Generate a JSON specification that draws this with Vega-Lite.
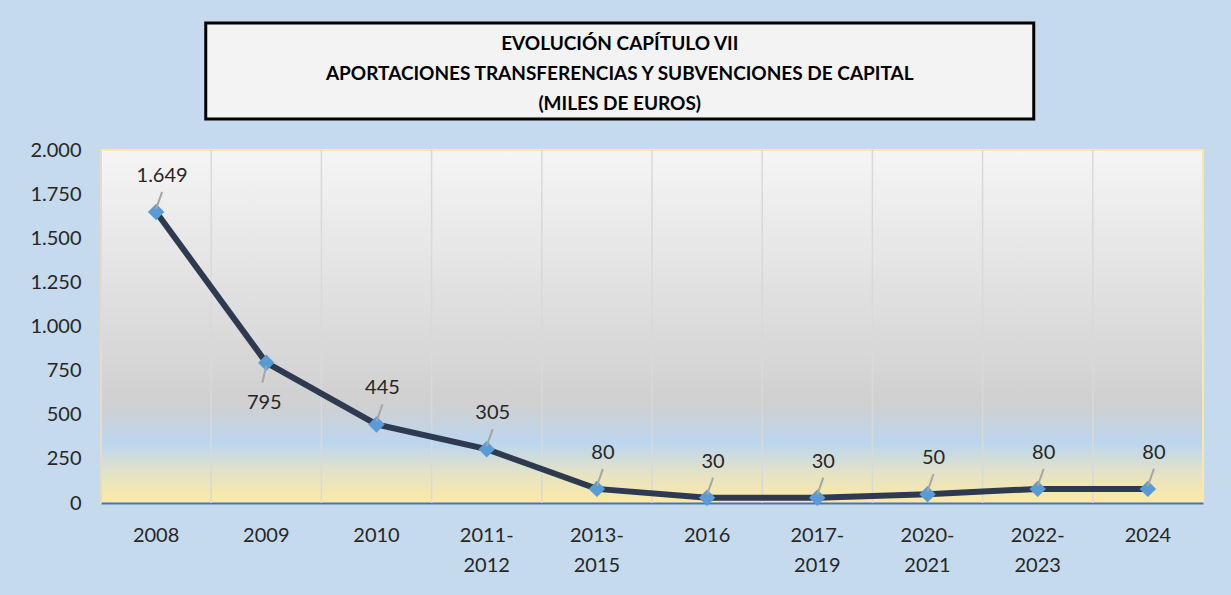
{
  "$schema": "https://vega.github.io/schema/vega-lite/v6.json",
  "background": "#c6daee",
  "padding": {"left": 28, "top": 21, "right": 30, "bottom": 24},
  "spacing": 18,
  "center": true,
  "config": {
    "font": "Lato",
    "locale": {"number": {"decimal": ",", "thousands": ".", "grouping": [3], "currency": ["", " €"]}}
  },
  "datasets": {
    "serie": [
      {"periodo": "2008", "valor": 1649},
      {"periodo": "2009", "valor": 795},
      {"periodo": "2010", "valor": 445},
      {"periodo": "2011-2012", "valor": 305},
      {"periodo": "2013-2015", "valor": 80},
      {"periodo": "2016", "valor": 30},
      {"periodo": "2017-2019", "valor": 30},
      {"periodo": "2020-2021", "valor": 50},
      {"periodo": "2022-2023", "valor": 80},
      {"periodo": "2024", "valor": 80}
    ],
    "titulo": [
      {"linea": 1, "texto": "EVOLUCIÓN CAPÍTULO VII"},
      {"linea": 2, "texto": "APORTACIONES TRANSFERENCIAS Y SUBVENCIONES DE CAPITAL"},
      {"linea": 3, "texto": "(MILES DE EUROS)"}
    ]
  },
  "vconcat": [
    {
      "width": 828,
      "height": 96,
      "view": {"fill": "#f3f3f3", "stroke": "#000000", "strokeWidth": 3},
      "data": {"name": "titulo"},
      "mark": {"type": "text", "fontWeight": "bold", "fontSize": 19, "color": "#000000", "baseline": "middle", "yOffset": 3},
      "encoding": {
        "y": {
          "field": "linea", "type": "ordinal",
          "scale": {"type": "point", "padding": 0.6},
          "axis": {"orient": "right", "title": null, "labels": false, "ticks": false, "domain": false, "grid": false, "minExtent": 64}
        },
        "text": {"field": "texto"}
      }
    },
    {
      "width": 1102,
      "height": 353,
      "view": {
        "fill": {
          "gradient": "linear", "x1": 0, "y1": 0, "x2": 0, "y2": 1,
          "stops": [
            {"offset": 0, "color": "#f5f5f5"},
            {"offset": 0.72, "color": "#d0d0d0"},
            {"offset": 0.83, "color": "#bcd6ee"},
            {"offset": 0.92, "color": "#e6e3c4"},
            {"offset": 1, "color": "#fee9a2"}
          ]
        },
        "stroke": "#fbe8a8",
        "strokeWidth": 2
      },
      "data": {"name": "serie"},
      "encoding": {
        "x": {
          "field": "periodo", "type": "ordinal", "sort": null,
          "scale": {"type": "band", "paddingInner": 0, "paddingOuter": 0},
          "axis": {
            "title": null, "labelAngle": 0, "ticks": false, "grid": false,
            "domainColor": "#4472c4", "domainWidth": 2,
            "labelFontSize": 20, "labelColor": "#262626", "labelPadding": 32,
            "labelLineHeight": 30, "labelBaseline": "middle",
            "labelExpr": "indexof(datum.label, '-') > 0 ? [slice(datum.label, 0, 5), slice(datum.label, 5)] : datum.label"
          }
        }
      },
      "layer": [
        {
          "mark": {"type": "rule", "color": "#d9d9d9", "strokeWidth": 1.5},
          "encoding": {
            "x": {"field": "periodo", "type": "ordinal", "sort": null, "bandPosition": 0}
          }
        },
        {
          "mark": {"type": "line", "color": "#2e3a4f", "strokeWidth": 6},
          "encoding": {
            "y": {
              "field": "valor", "type": "quantitative",
              "scale": {"domain": [0, 2000]},
              "axis": {
                "title": null, "values": [0, 250, 500, 750, 1000, 1250, 1500, 1750, 2000],
                "format": ",d", "grid": false, "domain": false, "ticks": false,
                "labelFontSize": 20, "labelColor": "#262626", "labelPadding": 20
              }
            }
          }
        },
        {
          "mark": {"type": "point", "shape": "diamond", "filled": true, "size": 270, "color": "#5b9bd5", "opacity": 1},
          "encoding": {"y": {"field": "valor", "type": "quantitative"}}
        },
        {
          "transform": [{"filter": "datum.periodo != '2009'"}],
          "mark": {"type": "rule", "color": "#a6a6a6", "strokeWidth": 2, "yOffset": -3, "x2Offset": 6, "y2Offset": -20},
          "encoding": {
            "y": {"field": "valor", "type": "quantitative"},
            "y2": {"field": "valor"},
            "x2": {"field": "periodo"}
          }
        },
        {
          "transform": [{"filter": "datum.periodo == '2009'"}],
          "mark": {"type": "rule", "color": "#a6a6a6", "strokeWidth": 2, "yOffset": 3, "x2Offset": -4, "y2Offset": 20},
          "encoding": {
            "y": {"field": "valor", "type": "quantitative"},
            "y2": {"field": "valor"},
            "x2": {"field": "periodo"}
          }
        },
        {
          "transform": [{"filter": "datum.periodo != '2009'"}],
          "mark": {"type": "text", "fontSize": 20, "color": "#262626", "dy": -36, "dx": 6},
          "encoding": {
            "y": {"field": "valor", "type": "quantitative"},
            "text": {"field": "valor", "type": "quantitative", "format": ",d"}
          }
        },
        {
          "transform": [{"filter": "datum.periodo == '2009'"}],
          "mark": {"type": "text", "fontSize": 20, "color": "#262626", "dy": 40, "dx": -2},
          "encoding": {
            "y": {"field": "valor", "type": "quantitative"},
            "text": {"field": "valor", "type": "quantitative", "format": ",d"}
          }
        }
      ]
    }
  ]
}
